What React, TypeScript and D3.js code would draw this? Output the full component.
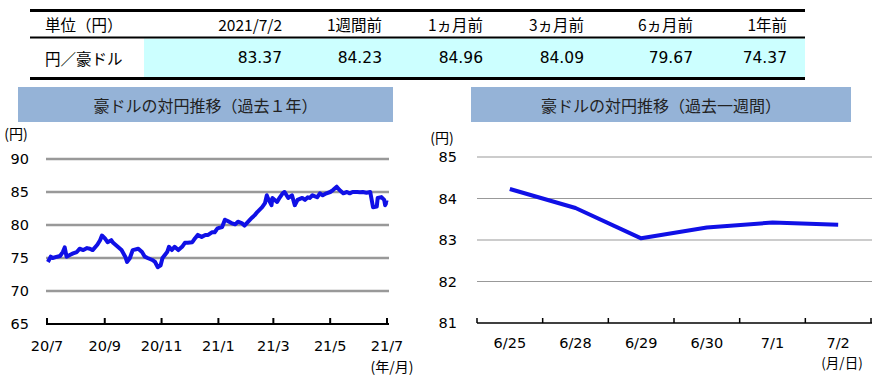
import React from "react";
import * as d3 from "d3";

const tableHeaders = ["単位（円）", "2021/7/2", "1週間前", "1ヵ月前", "3ヵ月前", "6ヵ月前", "1年前"];
const tableRowLabel = "円／豪ドル";
const tableValues = ["83.37", "84.23", "84.96", "84.09", "79.67", "74.37"];

const yearDates = [
  "2020-07-02","2020-07-05","2020-07-07","2020-07-12","2020-07-15","2020-07-18","2020-07-20","2020-07-22","2020-07-26","2020-07-29",
  "2020-08-02","2020-08-05","2020-08-09","2020-08-13","2020-08-16","2020-08-19","2020-08-24","2020-08-27","2020-08-29",
  "2020-09-01","2020-09-04","2020-09-08","2020-09-10","2020-09-15","2020-09-19","2020-09-23","2020-09-25","2020-09-28",
  "2020-10-01","2020-10-07","2020-10-11","2020-10-14","2020-10-17","2020-10-22","2020-10-25","2020-10-28","2020-10-31",
  "2020-11-02","2020-11-07","2020-11-09","2020-11-12","2020-11-15","2020-11-19","2020-11-23","2020-11-26","2020-11-29",
  "2020-12-04","2020-12-07","2020-12-10","2020-12-14","2020-12-18","2020-12-21","2020-12-25","2020-12-28","2020-12-31",
  "2021-01-05","2021-01-08","2021-01-11","2021-01-15","2021-01-19","2021-01-22","2021-01-26","2021-01-29",
  "2021-02-02","2021-02-06","2021-02-09","2021-02-12","2021-02-17","2021-02-20","2021-02-22","2021-02-23","2021-02-27","2021-02-28",
  "2021-03-05","2021-03-08","2021-03-11","2021-03-13","2021-03-17","2021-03-21","2021-03-24","2021-03-27",
  "2021-04-01","2021-04-04","2021-04-07","2021-04-09","2021-04-12","2021-04-17","2021-04-20","2021-04-23","2021-04-27",
  "2021-05-01","2021-05-04","2021-05-08","2021-05-11","2021-05-15","2021-05-19","2021-05-22","2021-05-25","2021-05-30",
  "2021-06-02","2021-06-05","2021-06-09","2021-06-13","2021-06-16","2021-06-20","2021-06-21","2021-06-25","2021-06-28","2021-06-29","2021-06-30","2021-07-01","2021-07-02"
];
const yearValues = [
  74.4,75.2,75.0,75.2,75.3,75.9,76.6,75.2,75.5,75.7,
  75.9,76.4,76.2,76.5,76.4,76.2,77.0,77.7,78.4,
  78.0,77.4,77.7,77.3,76.7,76.2,75.2,74.4,75.0,
  76.2,76.4,75.9,75.2,75.0,74.7,74.4,73.6,73.9,
  75.0,75.9,76.7,76.2,76.7,76.2,76.7,77.3,77.3,
  77.4,78.0,78.5,78.2,78.5,78.5,78.9,78.9,79.5,
  79.7,80.8,80.6,80.3,80.1,80.5,80.3,79.9,
  80.5,81.1,81.5,82.0,82.7,83.3,84.5,84.1,83.0,84.1,
  83.5,84.2,84.8,85.0,84.1,84.5,83.0,83.8,
  84.1,83.8,84.2,84.1,84.5,84.2,84.8,84.5,84.8,
  85.0,85.3,85.8,85.3,84.8,85.0,84.8,85.0,85.0,
  84.96,85.0,84.9,85.0,82.7,82.8,84.1,84.23,83.8,83.0,83.3,83.42,83.37
];
const yearTicks = ["2020-07-01","2020-09-01","2020-11-01","2021-01-01","2021-03-01","2021-05-01","2021-07-01"];
const yearTickLabels = ["20/7","20/9","20/11","21/1","21/3","21/5","21/7"];
const yearYTicks = [65, 70, 75, 80, 85, 90];

const weekLabels = ["6/25", "6/28", "6/29", "6/30", "7/1", "7/2"];
const weekValues = [84.23, 83.77, 83.04, 83.3, 83.42, 83.37];
const weekYTicks = [81, 82, 83, 84, 85];

const JP = "'Noto Sans CJK JP', 'DejaVu Sans', sans-serif";
const NUM = "'DejaVu Sans', 'Noto Sans CJK JP', sans-serif";
const BLUE = "#1010E6";

export default function App() {
  const parse = d3.timeParse("%Y-%m-%d");
  const yDates = yearDates.map((d) => parse(d) as Date);

  const colRight = [282, 382, 483, 584, 693, 787];

  const xL = d3.scaleTime().domain([parse(yearTicks[0]) as Date, parse(yearTicks[6]) as Date]).range([47, 387]);
  const yL = d3.scaleLinear().domain([65, 90]).range([324, 159]);
  const lineL = d3.line<number>().x((_, i) => xL(yDates[i])).y((v) => yL(v)).curve(d3.curveLinear);

  const xR = d3.scaleBand().domain(weekLabels).range([477, 871]);
  const yR = d3.scaleLinear().domain([81, 85]).range([323, 157]);
  const lineR = d3.line<number>().x((_, i) => (xR(weekLabels[i]) as number) + xR.bandwidth() / 2).y((v) => yR(v));

  return (
    <svg width={877} height={379} style={{ position: "absolute", left: 0, top: 0, background: "#fff" }}>
      <rect x={144} y={38.5} width={661} height={39} fill="#CCFFFF" />
      <line x1={30} x2={805} y1={10.5} y2={10.5} stroke="#000" strokeWidth={3} />
      <line x1={30} x2={805} y1={37.5} y2={37.5} stroke="#000" strokeWidth={2} />
      <line x1={30} x2={805} y1={78.5} y2={78.5} stroke="#000" strokeWidth={3} />
      <text x={45} y={24} dominantBaseline="central" fontFamily={JP} fontSize={15.5} fill="#000">{tableHeaders[0]}</text>
      {tableHeaders.slice(1).map((h, i) => (
        <text key={h} x={colRight[i]} y={24} dominantBaseline="central" textAnchor="end" fontFamily={JP} fontSize={15.5} fill="#000">{h}</text>
      ))}
      <text x={45} y={58} dominantBaseline="central" fontFamily={JP} fontSize={15.5} fill="#000">{tableRowLabel}</text>
      {tableValues.map((v, i) => (
        <text key={i} x={colRight[i]} y={58} dominantBaseline="central" textAnchor="end" fontFamily={NUM} fontSize={15.5} fill="#000">{v}</text>
      ))}

      <rect x={18} y={87} width={375} height={35} fill="#95B3D7" />
      <text x={205.5} y={104.5} textAnchor="middle" dominantBaseline="central" fontFamily={JP} fontSize={16} fill="#222">豪ドルの対円推移（過去１年）</text>
      <rect x={471} y={87} width={380} height={35} fill="#95B3D7" />
      <text x={661} y={104.5} textAnchor="middle" dominantBaseline="central" fontFamily={JP} fontSize={16} fill="#222">豪ドルの対円推移（過去一週間）</text>

      <text x={16} y={133} textAnchor="middle" dominantBaseline="central" fontFamily={JP} fontSize={14} fill="#000">(円)</text>
      {yearYTicks.map((t) => (
        <g key={t}>
          {t !== 65 && <line x1={46} x2={389} y1={yL(t)} y2={yL(t)} stroke="#999" strokeWidth={2.5} />}
          <text x={29} y={yL(t)} textAnchor="end" dominantBaseline="central" fontFamily={NUM} fontSize={14.5} fill="#000">{t}</text>
        </g>
      ))}
      <path d={lineL(yearValues) || ""} fill="none" stroke={BLUE} strokeWidth={4} strokeLinejoin="round" />
      <line x1={46} x2={389} y1={324} y2={324} stroke="#000" strokeWidth={2} />
      {yearTicks.map((t, i) => {
        const x = xL(parse(t) as Date);
        return (
          <g key={t}>
            <line x1={x} x2={x} y1={318} y2={324} stroke="#000" strokeWidth={2} />
            <text x={x} y={346} textAnchor="middle" dominantBaseline="central" fontFamily={NUM} fontSize={14.5} fill="#000">{yearTickLabels[i]}</text>
          </g>
        );
      })}
      <text x={392} y={366} textAnchor="middle" dominantBaseline="central" fontFamily={JP} fontSize={14} fill="#000">(年/月)</text>

      <text x={442} y={137} textAnchor="middle" dominantBaseline="central" fontFamily={JP} fontSize={14} fill="#000">(円)</text>
      {weekYTicks.map((t) => (
        <g key={t}>
          {t !== 81 && <line x1={477} x2={872} y1={yR(t)} y2={yR(t)} stroke="#999" strokeWidth={1} />}
          <text x={457} y={yR(t)} textAnchor="end" dominantBaseline="central" fontFamily={NUM} fontSize={14.5} fill="#000">{t}</text>
        </g>
      ))}
      <path d={lineR(weekValues) || ""} fill="none" stroke={BLUE} strokeWidth={4} strokeLinejoin="round" />
      <line x1={477} x2={872} y1={323} y2={323} stroke="#000" strokeWidth={1.5} />
      {[...weekLabels.map((l) => xR(l) as number), 871].map((x, i) => (
        <line key={i} x1={x} x2={x} y1={318} y2={323} stroke="#000" strokeWidth={1.5} />
      ))}
      {weekLabels.map((l) => (
        <text key={l} x={(xR(l) as number) + xR.bandwidth() / 2} y={343} textAnchor="middle" dominantBaseline="central" fontFamily={NUM} fontSize={14.5} fill="#000">{l}</text>
      ))}
      <text x={842} y={362} textAnchor="middle" dominantBaseline="central" fontFamily={JP} fontSize={13.5} fill="#000">(月/日)</text>
    </svg>
  );
}
